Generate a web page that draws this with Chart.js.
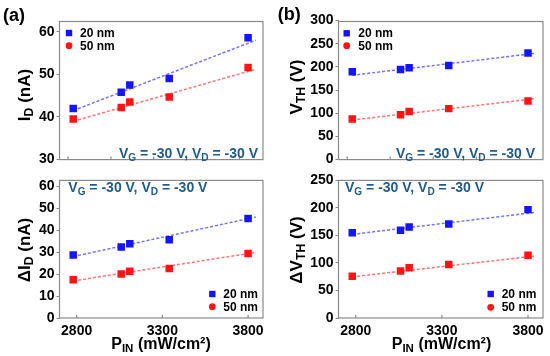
<!DOCTYPE html>
<html>
<head>
<meta charset="utf-8">
<script src="https://cdn.jsdelivr.net/npm/chart.js@4.4.0/dist/chart.umd.min.js"></script>
<style>
html, body { margin: 0; padding: 0; background: #fff; }
#wrap { position: relative; width: 550px; height: 356px; overflow: hidden; }
.panel { position: absolute; }
</style>
</head>
<body>
<div id="wrap">
  <div class="panel" style="left:0px;top:0px"><canvas id="cId" width="275" height="170"></canvas></div>
  <div class="panel" style="left:0px;top:170px"><canvas id="cDId" width="275" height="186"></canvas></div>
  <div class="panel" style="left:275px;top:0px"><canvas id="cVth" width="275" height="170"></canvas></div>
  <div class="panel" style="left:275px;top:170px"><canvas id="cDVth" width="275" height="186"></canvas></div>
</div>
<script>
// input power (mW/cm2)
const pIn = [2780, 3060, 3110, 3340, 3800];

// I_D (nA)
const id20 = [42.0, 45.8, 47.5, 49.0, 58.6];
const id50 = [39.5, 42.2, 43.5, 44.7, 51.6];
// delta I_D (nA)
const dId20 = [28.7, 32.4, 33.8, 35.7, 45.3];
const dId50 = [17.4, 20.0, 21.3, 22.5, 29.4];
// V_TH (V)
const vth20 = [189.4, 194.2, 198.4, 203.2, 230.0];
const vth50 = [87.5, 96.8, 103.7, 110.0, 126.2];
// delta V_TH (V)
const dVth20 = [154.9, 159.4, 165.4, 170.6, 196.9];
const dVth50 = [76.0, 85.3, 91.1, 97.1, 113.9];

// dashed fit lines, start / end
const fitX = [2780, 3845];
const idFit20 = [41.5, 58.0];
const idFit50 = [39.0, 51.2];
const dIdFit20 = [28.0, 46.0];
const dIdFit50 = [16.9, 29.9];
const vthFit20 = [182.0, 229.5];
const vthFit50 = [85.4, 131.7];
const dVthFit20 = [152.0, 192.0];
const dVthFit50 = [74.8, 112.8];

// ticks
const xLabelTicks = [2800, 3300, 3800];
const xTopMarks = [2750, 3000, 3250, 3500, 3750];
const idTicks = [30, 40, 50, 60];
const dIdTicks = [0, 10, 20, 30, 40, 50, 60];
const vthTicks = [0, 50, 100, 150, 200, 250, 300];
const dVthTicks = [0, 50, 100, 150, 200, 250];

const FONT = '"Liberation Sans", Arial, sans-serif';
const BLUE = '#1414ff';
const RED = '#ff1414';
const TEAL = '#1f5b8c';

function pts(ys, xs) {
    xs = xs || pIn;
    return xs.map((x, i) => ({ x: x, y: ys[i] }));
}

// text pieces: [text, isSub]
function richWidth(ctx, segs, size) {
    let w = 0;
    segs.forEach(s => {
        ctx.font = 'bold ' + (s[1] ? size * 0.72 : size) + 'px ' + FONT;
        w += ctx.measureText(s[0]).width;
    });
    return w;
}

function drawRich(ctx, segs, x, y, size, align, color) {
    // y is the visual middle of the capitals
    const w = richWidth(ctx, segs, size);
    let cx = x;
    if (align === 'center') cx = x - w / 2;
    if (align === 'right') cx = x - w;
    const base = y + size * 0.36;
    ctx.fillStyle = color;
    ctx.textBaseline = 'alphabetic';
    ctx.textAlign = 'left';
    segs.forEach(s => {
        const sz = s[1] ? size * 0.72 : size;
        ctx.font = 'bold ' + sz + 'px ' + FONT;
        ctx.fillText(s[0], cx, s[1] ? base + size * 0.2 : base);
        cx += ctx.measureText(s[0]).width;
    });
}

const condText = [['V', false], ['G', true], [' = -30 V, V', false], ['D', true], [' = -30 V', false]];
const xTitle = [['P', false], ['IN', true], [' (mW/cm²)', false]];

const decor = {
    id: 'decor',
    afterDraw(chart, args, o) {
        const ctx = chart.ctx;
        const a = chart.chartArea;
        const xs = chart.scales.x;
        ctx.save();
        // frame
        ctx.strokeStyle = '#8a8a8a';
        ctx.lineWidth = 1.2;
        ctx.strokeRect(a.left, a.top, a.right - a.left, a.bottom - a.top);
        // inward tick marks on the bottom edge
        ctx.beginPath();
        o.xMarks.forEach(v => {
            const px = xs.getPixelForValue(v);
            ctx.moveTo(px, a.bottom);
            ctx.lineTo(px, a.bottom - 3);
        });
        ctx.stroke();

        if (o.panel) {
            ctx.font = 'bold 18px ' + FONT;
            ctx.fillStyle = '#000';
            ctx.textAlign = 'left';
            ctx.textBaseline = 'alphabetic';
            ctx.fillText(o.panel[0], o.panel[1], o.panel[2]);
        }

        // y title, rotated
        ctx.save();
        ctx.translate(o.yTitle.x, o.yTitle.y);
        ctx.rotate(-Math.PI / 2);
        drawRich(ctx, o.yTitle.segs, 0, 0, 17, 'center', '#000');
        ctx.restore();

        if (o.xTitle) {
            drawRich(ctx, xTitle, o.xTitle.x, o.xTitle.y, 16, 'center', '#000');
        }

        drawRich(ctx, condText, o.cond.x, o.cond.y, 14, o.cond.align, TEAL);

        // legend
        const lg = o.legend;
        ctx.fillStyle = BLUE;
        ctx.fillRect(lg.x - 3.2, lg.y1 - 3.2, 6.4, 6.4);
        ctx.fillStyle = RED;
        ctx.beginPath();
        ctx.arc(lg.x, lg.y2, 3.4, 0, Math.PI * 2);
        ctx.fill();
        ctx.fillStyle = '#000';
        ctx.font = 'bold 12px ' + FONT;
        ctx.textAlign = 'left';
        ctx.textBaseline = 'middle';
        ctx.fillText('20 nm', lg.tx, lg.y1 + 0.5);
        ctx.fillText('50 nm', lg.tx, lg.y2 + 0.5);
        ctx.restore();
    }
};

function makePanel(id, p) {
    const ctx = document.getElementById(id).getContext('2d');
    return new Chart(ctx, {
        type: 'scatter',
        data: {
            datasets: [
                { label: '20 nm', data: pts(p.y20), pointStyle: 'rect', pointRadius: 5.3,
                  backgroundColor: BLUE, borderWidth: 0, showLine: false },
                { label: '50 nm', data: pts(p.y50), pointStyle: 'rect', pointRadius: 5.3,
                  backgroundColor: RED, borderWidth: 0, showLine: false },
                { label: '20 nm fit', data: pts(p.f20, fitX), showLine: true, pointRadius: 0,
                  borderColor: 'rgba(100,100,255,0.9)', borderWidth: 1.5, borderDash: [3, 2] },
                { label: '50 nm fit', data: pts(p.f50, fitX), showLine: true, pointRadius: 0,
                  borderColor: 'rgba(255,100,100,0.9)', borderWidth: 1.5, borderDash: [3, 2] }
            ]
        },
        options: {
            responsive: false,
            animation: false,
            events: [],
            layout: { padding: { left: 0, top: p.padTop, right: p.padRight, bottom: 0 } },
            plugins: {
                legend: { display: false },
                tooltip: { enabled: false },
                decor: p.decor
            },
            scales: {
                x: {
                    type: 'linear', min: 2700, max: 3887,
                    grid: { display: false, drawTicks: false },
                    border: { display: false },
                    ticks: { display: p.xLabels, color: '#000', padding: 5, maxRotation: 0,
                             callback: v => String(v),
                             font: { family: FONT, size: 14, weight: 'bold' } },
                    afterBuildTicks: s => { s.ticks = xLabelTicks.map(v => ({ value: v })); },
                    afterFit: s => { s.height = p.xHeight; }
                },
                y: {
                    min: p.yMin, max: p.yMax,
                    grid: { display: true, drawOnChartArea: false, drawTicks: true, tickLength: 3, color: '#8a8a8a' },
                    border: { display: false },
                    ticks: { color: '#000', padding: 2,
                             font: { family: FONT, size: 14, weight: 'bold' } },
                    afterBuildTicks: s => { s.ticks = p.yTicks.map(v => ({ value: v })); },
                    afterFit: s => { s.width = p.yWidth; }
                }
            }
        },
        plugins: [decor]
    });
}

makePanel('cId', {
    y20: id20, y50: id50, f20: idFit20, f50: idFit50,
    yMin: 30, yMax: 62.4, yTicks: idTicks,
    padTop: 21.5, padRight: 12, yWidth: 59.5, xHeight: 6.5, xLabels: false,
    decor: {
        xMarks: xTopMarks,
        panel: ['(a)', 3, 21],
        yTitle: { x: 23.5, y: 95, segs: [['I', false], ['D', true], [' (nA)', false]] },
        cond: { x: 258, y: 153, align: 'right' },
        legend: { x: 69, y1: 33, y2: 45.7, tx: 80 }
    }
});

makePanel('cDId', {
    y20: dId20, y50: dId50, f20: dIdFit20, f50: dIdFit50,
    yMin: 0, yMax: 62.7, yTicks: dIdTicks,
    padTop: 5.5, padRight: 12, yWidth: 59.5, xHeight: 38, xLabels: true,
    decor: {
        xMarks: xLabelTicks,
        yTitle: { x: 23.5, y: 80, segs: [['ΔI', false], ['D', true], [' (nA)', false]] },
        xTitle: { x: 161, y: 173 },
        cond: { x: 68.3, y: 16.7, align: 'left' },
        legend: { x: 212.3, y1: 124, y2: 136.7, tx: 223.3 }
    }
});

makePanel('cVth', {
    y20: vth20, y50: vth50, f20: vthFit20, f50: vthFit50,
    yMin: 0, yMax: 298, yTicks: vthTicks,
    padTop: 21.5, padRight: 7, yWidth: 63.5, xHeight: 6.5, xLabels: false,
    decor: {
        xMarks: xTopMarks,
        panel: ['(b)', 2.7, 20],
        yTitle: { x: 20.8, y: 87, segs: [['V', false], ['TH', true], [' (V)', false]] },
        cond: { x: 260, y: 152.7, align: 'right' },
        legend: { x: 71.7, y1: 33.3, y2: 45.7, tx: 83.3 }
    }
});

makePanel('cDVth', {
    y20: dVth20, y50: dVth50, f20: dVthFit20, f50: dVthFit50,
    yMin: 0, yMax: 250, yTicks: dVthTicks,
    padTop: 5, padRight: 7, yWidth: 63.5, xHeight: 38, xLabels: true,
    decor: {
        xMarks: xLabelTicks,
        yTitle: { x: 20.8, y: 80, segs: [['ΔV', false], ['TH', true], [' (V)', false]] },
        xTitle: { x: 166.5, y: 173 },
        cond: { x: 70, y: 16.7, align: 'left' },
        legend: { x: 215.7, y1: 124, y2: 137.3, tx: 226.7 }
    }
});
</script>
</body>
</html>
